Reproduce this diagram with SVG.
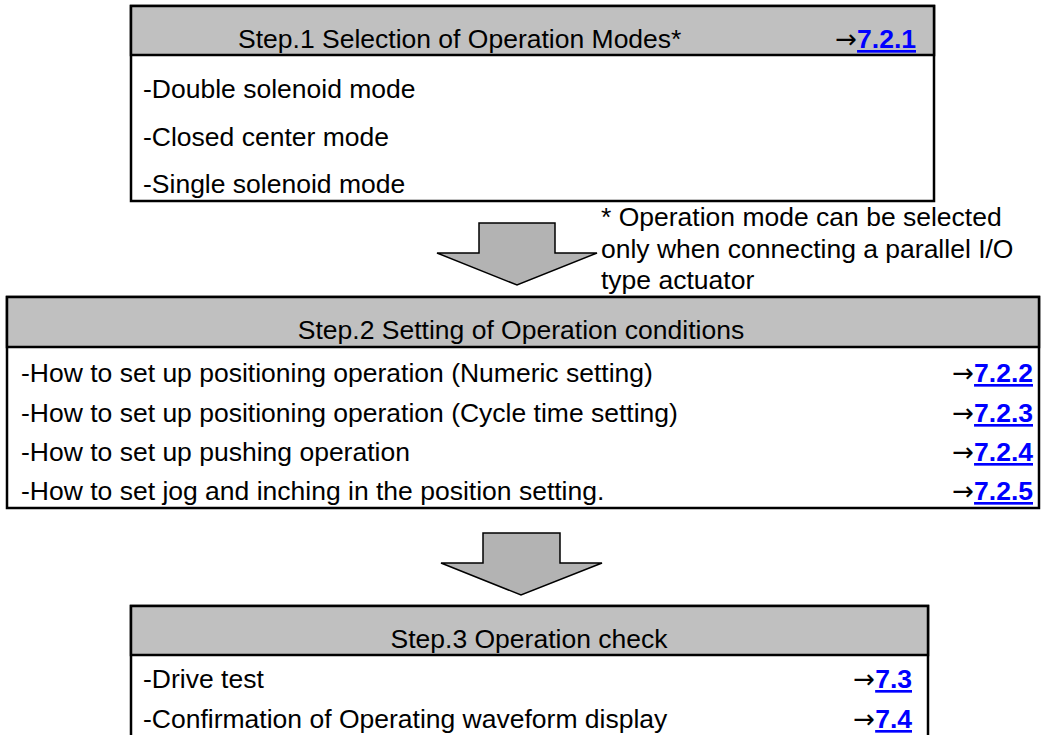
<svg xmlns="http://www.w3.org/2000/svg" width="1041" height="735" viewBox="0 0 1041 735">
<style>
  text { font-family: "Liberation Sans", Arial, sans-serif; font-size: 26.5px; fill: #000; }
  .box { fill: #fff; stroke: #000; stroke-width: 2.5; }
  .hdr { fill: #c0c0c0; stroke: #000; stroke-width: 2.5; }
  .link { fill: #0000ff; font-weight: bold; text-decoration: underline; font-family: "Liberation Sans", Arial, sans-serif; font-size: 26.5px; }
  .ar { font-family: "DejaVu Sans", sans-serif; font-size: 26px; }
  .arrow { fill: #b3b3b3; stroke: #000; stroke-width: 1.5; stroke-linejoin: miter; }
  .mid { text-anchor: middle; }
  .end { text-anchor: end; }
</style>
<rect width="1041" height="735" fill="#fff"/>

<g id="step1">
  <rect class="box" x="131" y="6" width="803" height="195"/>
  <rect class="hdr" x="131" y="6" width="803" height="49"/>
  <text x="238" y="48">Step.1 Selection of Operation Modes*</text>
  <text class="end ar" x="916" y="48">→<tspan class="link">7.2.1</tspan></text>
  <text x="143" y="98">-Double solenoid mode</text>
  <text x="143" y="146">-Closed center mode</text>
  <text x="143" y="193">-Single solenoid mode</text>
</g>

<g id="note">
  <text x="601" y="226">* Operation mode can be selected</text>
  <text x="601" y="258">only when connecting a parallel I/O</text>
  <text x="601" y="289">type actuator</text>
</g>

<g id="step2">
  <rect class="box" x="7" y="297" width="1032" height="211"/>
  <rect class="hdr" x="7" y="297" width="1032" height="50"/>
  <text class="mid" x="521" y="339">Step.2 Setting of Operation conditions</text>
  <text x="21" y="382">-How to set up positioning operation (Numeric setting)</text>
  <text class="end ar" x="1033" y="382">→<tspan class="link">7.2.2</tspan></text>
  <text x="21" y="422">-How to set up positioning operation (Cycle time setting)</text>
  <text class="end ar" x="1033" y="422">→<tspan class="link">7.2.3</tspan></text>
  <text x="21" y="461">-How to set up pushing operation</text>
  <text class="end ar" x="1033" y="461">→<tspan class="link">7.2.4</tspan></text>
  <text x="21" y="500">-How to set jog and inching in the position setting.</text>
  <text class="end ar" x="1033" y="500">→<tspan class="link">7.2.5</tspan></text>
</g>

<g id="step3">
  <rect class="box" x="131" y="606" width="797" height="135"/>
  <rect class="hdr" x="131" y="606" width="797" height="49"/>
  <text class="mid" x="529" y="648">Step.3 Operation check</text>
  <text x="143" y="688">-Drive test</text>
  <text class="end ar" x="912" y="688">→<tspan class="link">7.3</tspan></text>
  <text x="143" y="728">-Confirmation of Operating waveform display</text>
  <text class="end ar" x="912" y="728">→<tspan class="link">7.4</tspan></text>
</g>

<g id="connectors">
  <path class="arrow" d="M479,223 L555,223 L555,253 L597,253 L517,285 L437,253 L479,253 Z"/>
  <path class="arrow" d="M483,533 L560,533 L560,563 L602,563 L521,595 L441,563 L483,563 Z"/>
</g>
</svg>
